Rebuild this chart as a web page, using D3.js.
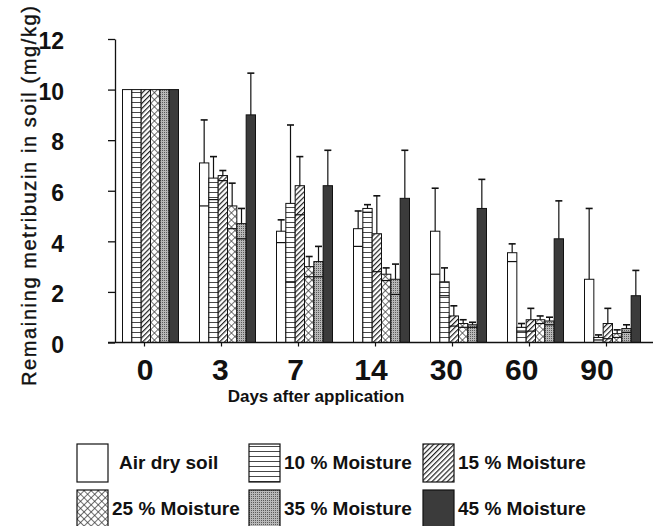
<!DOCTYPE html>
<html>
<head>
<meta charset="utf-8">
<script src="https://cdn.jsdelivr.net/npm/d3@7"></script>
<style>
  html, body { margin: 0; padding: 0; background: #fff; }
  svg { display: block; font-family: "Liberation Sans", Arial, sans-serif; }
</style>
</head>
<body>
<svg id="chart" width="663" height="526"></svg>
<script>
const days = ["0", "3", "7", "14", "30", "60", "90"];
const seriesNames = ["Air dry soil", "10 % Moisture", "15 % Moisture", "25 % Moisture", "35 % Moisture", "45 % Moisture"];

// mean remaining metribuzin (mg/kg), one array per moisture level, over days
const airDry = [10, 7.1, 4.4, 4.5, 4.4, 3.55, 2.5];
const moist10 = [10, 6.5, 5.5, 5.3, 2.4, 0.6, 0.2];
const moist15 = [10, 6.6, 6.2, 4.3, 1.05, 0.9, 0.75];
const moist25 = [10, 5.4, 3.0, 2.7, 0.75, 0.9, 0.35];
const moist35 = [10, 4.7, 3.2, 2.5, 0.7, 0.85, 0.55];
const moist45 = [10, 9.0, 6.2, 5.7, 5.3, 4.1, 1.85];

// standard deviations
const sdAirDry = [0, 1.7, 0.45, 0.7, 1.7, 0.35, 2.8];
const sd10 = [0, 0.85, 3.1, 0.15, 0.55, 0.15, 0.1];
const sd15 = [0, 0.2, 1.15, 1.5, 0.4, 0.45, 0.6];
const sd25 = [0, 0.9, 0.4, 0.25, 0.15, 0.15, 0.15];
const sd35 = [0, 0.6, 0.6, 0.6, 0.1, 0.15, 0.15];
const sd45 = [0, 1.65, 1.4, 1.9, 1.15, 1.5, 1.0];

const yTicks = [0, 2, 4, 6, 8, 10, 12];

const means = [airDry, moist10, moist15, moist25, moist35, moist45];
const sds = [sdAirDry, sd10, sd15, sd25, sd35, sd45];
const fills = ["#fff", "url(#hlines)", "url(#diag)", "url(#cross)", "url(#stipple)", "#3b3b3b"];

const svg = d3.select("#chart");
const defs = svg.append("defs");

// patterns
const ph = defs.append("pattern").attr("id", "hlines").attr("patternUnits", "userSpaceOnUse")
  .attr("width", 6).attr("height", 5);
ph.append("rect").attr("width", 6).attr("height", 5).attr("fill", "#fff");
ph.append("line").attr("x1", 0).attr("x2", 6).attr("y1", 2.5).attr("y2", 2.5)
  .attr("stroke", "#333").attr("stroke-width", 0.9);

const pd = defs.append("pattern").attr("id", "diag").attr("patternUnits", "userSpaceOnUse")
  .attr("width", 3.6).attr("height", 3.6).attr("patternTransform", "rotate(45)");
pd.append("rect").attr("width", 3.6).attr("height", 3.6).attr("fill", "#fff");
pd.append("line").attr("x1", 0).attr("x2", 0).attr("y1", 0).attr("y2", 3.6)
  .attr("stroke", "#222").attr("stroke-width", 2.4);

const pc = defs.append("pattern").attr("id", "cross").attr("patternUnits", "userSpaceOnUse")
  .attr("width", 5).attr("height", 5).attr("patternTransform", "rotate(45)");
pc.append("rect").attr("width", 5).attr("height", 5).attr("fill", "#fff");
pc.append("line").attr("x1", 0).attr("x2", 5).attr("y1", 0).attr("y2", 0).attr("stroke", "#333").attr("stroke-width", 1.4);
pc.append("line").attr("x1", 0).attr("x2", 0).attr("y1", 0).attr("y2", 5).attr("stroke", "#333").attr("stroke-width", 1.4);

const ps = defs.append("pattern").attr("id", "stipple").attr("patternUnits", "userSpaceOnUse")
  .attr("width", 2).attr("height", 2);
ps.append("rect").attr("width", 2).attr("height", 2).attr("fill", "#b8b8b8");
ps.append("rect").attr("width", 1).attr("height", 1).attr("fill", "#5a5a5a");

// scales
const y = d3.scaleLinear().domain([0, 12]).range([342.5, 39]);
const x0 = d3.scaleBand().domain(days).range([112, 651]).padding(0);
const half = x0.bandwidth() / 2;
const x1 = d3.scaleBand().domain(d3.range(seriesNames.length)).range([half - 28, half + 28]).padding(0);
const labelX = d3.scalePoint().domain(days).range([145, 597]);

// bars
const groups = svg.append("g").selectAll("g")
  .data(days)
  .join("g")
  .attr("transform", (d) => `translate(${x0(d)},0)`);

const bars = groups.selectAll("g.bar")
  .data((d, i) => seriesNames.map((s, k) => ({ k, mean: means[k][i], sd: sds[k][i] })))
  .join("g")
  .attr("class", "bar");

bars.append("rect")
  .attr("x", (d) => x1(d.k))
  .attr("y", (d) => y(d.mean))
  .attr("width", x1.bandwidth())
  .attr("height", (d) => y(0) - y(d.mean))
  .attr("fill", (d) => fills[d.k])
  .attr("stroke", "#111")
  .attr("stroke-width", 1);

const withErr = bars.filter((d) => d.sd > 0);
withErr.append("line")
  .attr("x1", (d) => x1(d.k) + x1.bandwidth() / 2)
  .attr("x2", (d) => x1(d.k) + x1.bandwidth() / 2)
  .attr("y1", (d) => y(d.mean))
  .attr("y2", (d) => y(d.mean + d.sd))
  .attr("stroke", "#111").attr("stroke-width", 1.2);
withErr.append("line")
  .attr("x1", (d) => x1(d.k) + x1.bandwidth() / 2 - 3.5)
  .attr("x2", (d) => x1(d.k) + x1.bandwidth() / 2 + 3.5)
  .attr("y1", (d) => y(d.mean + d.sd))
  .attr("y2", (d) => y(d.mean + d.sd))
  .attr("stroke", "#111").attr("stroke-width", 1.6);
// lower whisker shows as a line across the bar (not visible on the dark bars)
withErr.filter((d) => d.k < 5 && d.mean - d.sd > 0.05).append("line")
  .attr("x1", (d) => x1(d.k))
  .attr("x2", (d) => x1(d.k) + x1.bandwidth())
  .attr("y1", (d) => y(d.mean - d.sd))
  .attr("y2", (d) => y(d.mean - d.sd))
  .attr("stroke", "#111").attr("stroke-width", 1.2);

// y axis
const yAxis = svg.append("g")
  .attr("transform", "translate(115,0)")
  .call(d3.axisLeft(y).tickValues(yTicks).tickSize(7).tickSizeOuter(0).tickPadding(44));
yAxis.select(".domain").attr("stroke", "#111").attr("stroke-width", 1.3);
yAxis.selectAll(".tick line").attr("stroke", "#111").attr("stroke-width", 1.3);
yAxis.selectAll(".tick text")
  .attr("font-size", 23).attr("font-weight", "bold").attr("fill", "#111")
  .attr("font-family", "Liberation Sans, Arial, sans-serif")
  .attr("dy", "0.42em");

// x axis
svg.append("line")
  .attr("x1", 108).attr("x2", 653)
  .attr("y1", y(0)).attr("y2", y(0))
  .attr("stroke", "#111").attr("stroke-width", 1.5);
const xAxis = svg.append("g")
  .attr("transform", `translate(-6,${y(0)})`)
  .call(d3.axisBottom(x0).tickSize(4).tickFormat(""));
xAxis.select(".domain").remove();
xAxis.selectAll(".tick line").attr("stroke", "#111").attr("stroke-width", 1.2);

svg.append("g").selectAll("text")
  .data(days)
  .join("text")
  .attr("x", (d) => labelX(d))
  .attr("y", 380)
  .attr("text-anchor", "middle")
  .attr("font-size", 30)
  .attr("font-weight", "bold")
  .attr("fill", "#111")
  .text((d) => d);

// axis titles
svg.append("text")
  .attr("x", 316).attr("y", 402)
  .attr("text-anchor", "middle")
  .attr("font-size", 17).attr("font-weight", "bold").attr("fill", "#111")
  .text("Days after application");

svg.append("text")
  .attr("transform", "translate(36,196) rotate(-90)")
  .attr("text-anchor", "middle")
  .attr("font-size", 20).attr("fill", "#111")
  .attr("stroke", "#111").attr("stroke-width", 0.4)
  .attr("textLength", 380).attr("lengthAdjust", "spacing")
  .text("Remaining metribuzin in soil (mg/kg)");

// legend
const legendCols = [77, 249, 423];
const legendRows = [444, 490];
const legend = svg.append("g").selectAll("g")
  .data(seriesNames)
  .join("g")
  .attr("transform", (d, i) => `translate(${legendCols[i % 3]},${legendRows[Math.floor(i / 3)]})`);
legend.append("rect")
  .attr("width", 31).attr("height", 38)
  .attr("fill", (d, i) => fills[i])
  .attr("stroke", "#111").attr("stroke-width", 1.2);
legend.append("text")
  .attr("x", (d, i) => (i === 0 ? 42 : 35))
  .attr("y", 25)
  .attr("font-size", 19).attr("font-weight", "bold").attr("fill", "#111")
  .text((d) => d);
</script>
</body>
</html>
